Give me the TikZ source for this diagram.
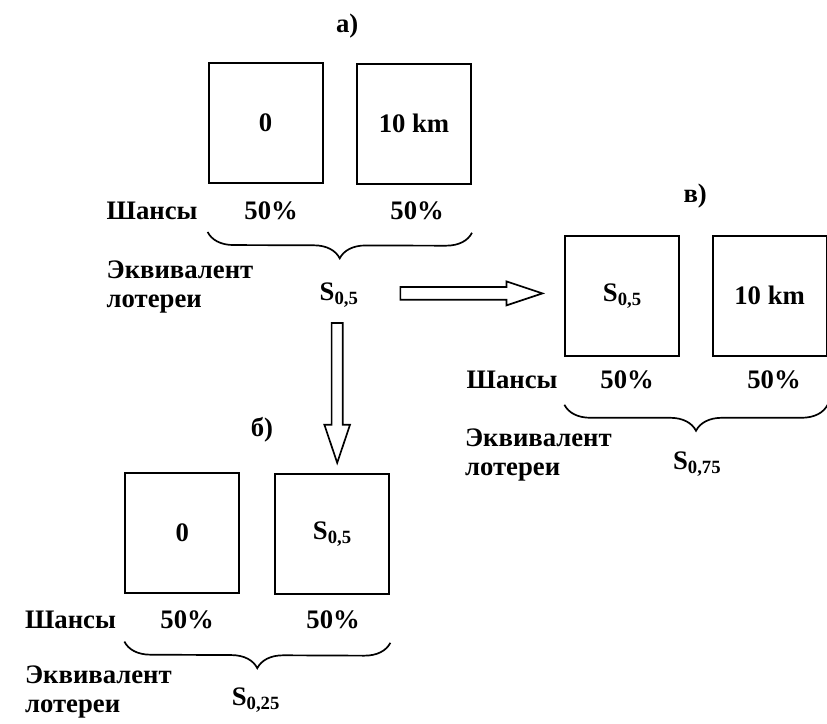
\documentclass[tikz,border=0pt]{standalone}
\usepackage{fontspec}
\setmainfont{Liberation Serif}
\usetikzlibrary{calc, decorations.pathreplacing}
\tikzset{
  prize/.style={rectangle, draw=black, line width=1.4pt, minimum width=2.85cm, minimum height=3cm, inner sep=0pt},
  lbl/.style={inner sep=1pt},
  chance/.style={anchor=west, inner sep=0pt},
  eqv/.style={anchor=west, align=left, inner sep=0pt, font=\fontsize{19}{20.5}\selectfont\bfseries},
  brc/.style={decorate, decoration={brace, amplitude=0.65cm, mirror}, line width=1.2pt},
  hollow/.style={draw=black, line width=1.2pt, fill=white, line join=miter},
}

\begin{document}
\begin{tikzpicture}[font=\fontsize{19}{17}\selectfont\bfseries]
  \useasboundingbox (0,0) rectangle (20.675,18.075);

  % Lottery a)
  \node[lbl] (la) at (8.68,17.43) {а)};
  \node[prize] (a0) at (6.64,15.0) {0};
  \node[prize] (a1) at (10.35,14.98) {10 km};
  \node[chance] (cha) at (2.66,12.8) {Шансы};
  \node[lbl] (pa0) at (6.78,12.8) {50\%};
  \node[lbl] (pa1) at (10.43,12.8) {50\%};
  \draw[brc] ($(a0.south west)+(0,-1.2)$) -- ($(a1.south east)+(0,-1.2)$);
  \node[eqv] (eqa) at (2.66,10.9) {Эквивалент\\лотереи};
  \node[lbl] (s05a) at (8.48,10.7) {S\textsubscript{0,5}};

  % Lottery b)
  \node[lbl] (lb) at (6.55,7.33) {б)};
  \node[prize] (b0) at (4.56,4.76) {0};
  \node[prize] (b1) at (8.31,4.73) {S\textsubscript{0,5}};
  \node[chance] (chb) at (0.62,2.58) {Шансы};
  \node[lbl] (pb0) at (4.68,2.58) {50\%};
  \node[lbl] (pb1) at (8.33,2.58) {50\%};
  \draw[brc] ($(b0.south west)+(0,-1.2)$) -- ($(b1.south east)+(0,-1.2)$);
  \node[eqv] (eqb) at (0.62,0.78) {Эквивалент\\лотереи};
  \node[lbl] (s025) at (6.4,0.58) {S\textsubscript{0,25}};

  % Lottery v)
  \node[lbl] (lv) at (17.38,13.18) {в)};
  \node[prize] (v0) at (15.56,10.68) {S\textsubscript{0,5}};
  \node[prize] (v1) at (19.24,10.68) {10 km};
  \node[chance] (chv) at (11.66,8.58) {Шансы};
  \node[lbl] (pv0) at (15.68,8.58) {50\%};
  \node[lbl] (pv1) at (19.35,8.58) {50\%};
  \draw[brc] ($(v0.south west)+(0,-1.2)$) -- ($(v1.south east)+(0,-1.2)$);
  \node[eqv] (eqv) at (11.62,6.7) {Эквивалент\\лотереи};
  \node[lbl] (s075) at (17.43,6.48) {S\textsubscript{0,75}};

  % Hollow arrows
  \coordinate (h0) at ($(s05a.east)+(1.0,0.04)$);
  \coordinate (h1) at ($(h0 -| v0.west)+(-0.55,0)$);
  \draw[hollow] ($(h0)+(0,0.16)$) -- ($(h1)+(-0.9,0.16)$) -- ($(h1)+(-0.9,0.3)$) -- (h1)
    -- ($(h1)+(-0.9,-0.3)$) -- ($(h1)+(-0.9,-0.16)$) -- ($(h0)+(0,-0.16)$) -- cycle;
  \coordinate (d0) at ($(s05a.south)+(-0.05,-0.35)$);
  \coordinate (d1) at ($(d0 |- b1.north)+(0,0.25)$);
  \draw[hollow] ($(d0)+(-0.14,0)$) -- ($(d1)+(-0.14,0.95)$) -- ($(d1)+(-0.32,0.95)$) -- (d1)
    -- ($(d1)+(0.32,0.95)$) -- ($(d1)+(0.14,0.95)$) -- ($(d0)+(0.14,0)$) -- cycle;
\end{tikzpicture}
\end{document}
